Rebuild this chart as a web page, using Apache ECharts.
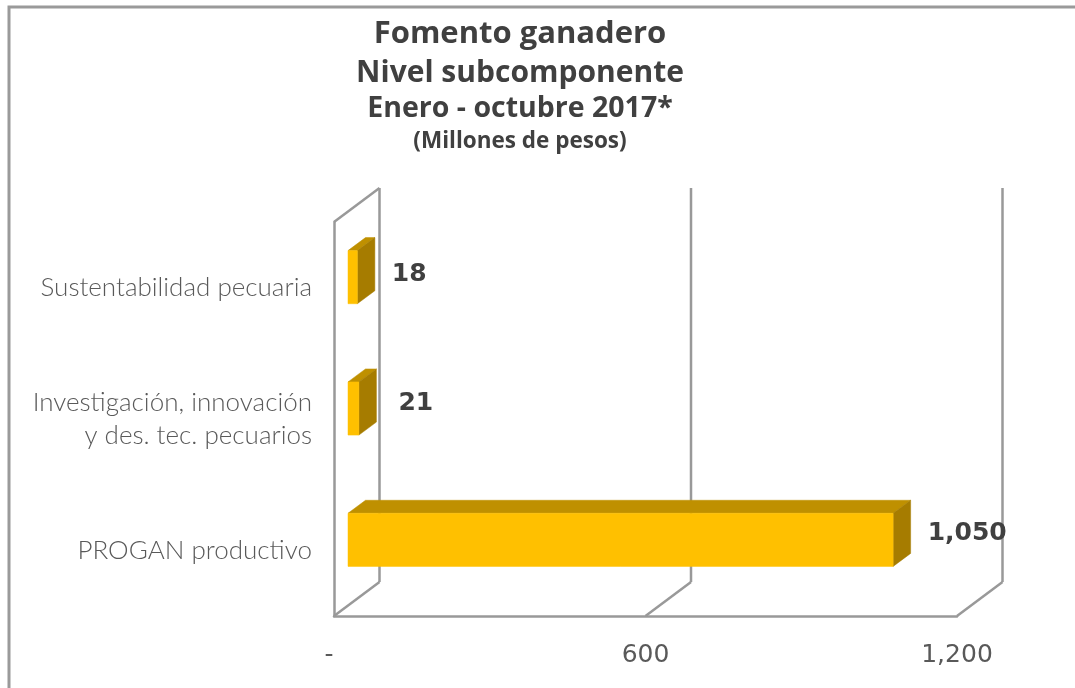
<!DOCTYPE html>
<html><head><meta charset="utf-8">
<style>html,body{margin:0;padding:0;background:#fff}#c{width:1075px;height:688px}</style>
<script src="https://cdn.jsdelivr.net/npm/echarts@6/dist/echarts.min.js"></script>
</head><body><div id="c"></div>
<script>
const categories = ['PROGAN productivo', 'Investigación, innovación\ny des. tec. pecuarios', 'Sustentabilidad pecuaria'];
const values = [1050, 21, 18];
const ticks = [0, 600, 1200];
const tickLabels = { 0: '{d|-}', 600: '600', 1200: '1,200' };
const valueLabels = ['1,050', '21', '18'];

const WALL = { dx: 45.5, dy: -34 };
const BAR = { ox: 14, oy: -10.5, dx: 17.5, dy: -13, ratio: 53 / 131 };
const GREY = '#999999', TEXT = '#595959', DARK = '#404040';
const labelNudge = [17, 22, 17];
const labelRise = [-6, -5, -3];

function seg(x1, y1, x2, y2) {
  return { type: 'line', shape: { x1, y1, x2, y2 }, style: { stroke: GREY, lineWidth: 2.5, fill: null } };
}
function renderWall(params, api) {
  const cs = params.coordSys;
  const x = api.coord([api.value(0), 0])[0];
  const top = cs.y, bottom = cs.y + cs.height;
  const kids = [
    seg(x, bottom, x + WALL.dx, bottom + WALL.dy),
    seg(x + WALL.dx, bottom + WALL.dy, x + WALL.dx, top + WALL.dy)
  ];
  if (params.dataIndex === 0) kids.push(seg(x, top, x + WALL.dx, top + WALL.dy));
  return { type: 'group', children: kids };
}
function renderBar(params, api) {
  const v = api.value(0), i = api.value(1);
  const p0 = api.coord([0, i]), p1 = api.coord([v, i]);
  const h = api.size([0, 1])[1] * BAR.ratio;
  const x0 = p0[0] + BAR.ox, x1 = p1[0] + BAR.ox;
  const yT = p0[1] + BAR.oy - h / 2, yB = yT + h;
  const d = BAR.dx, e = BAR.dy;
  const poly = (points, fill) => ({ type: 'polygon', shape: { points }, style: { fill, stroke: fill, lineWidth: 0.5 } });
  return { type: 'group', children: [
    poly([[x0, yT], [x0 + d, yT + e], [x1 + d, yT + e], [x1, yT]], '#BF9000'),
    poly([[x1, yT], [x1 + d, yT + e], [x1 + d, yB + e], [x1, yB]], '#A67C00'),
    poly([[x0, yT], [x1, yT], [x1, yB], [x0, yB]], '#FFC000'),
    { type: 'text', z2: 10, style: {
        text: valueLabels[params.dataIndex],
        x: x1 + d + labelNudge[params.dataIndex],
        y: (yT + yB) / 2 + labelRise[params.dataIndex],
        align: 'left', verticalAlign: 'middle',
        font: 'bold 25px "DejaVu Sans"', fill: DARK } }
  ] };
}
const titleLines = [
  ['Fomento ganadero', 29, 31],
  ['Nivel subcomponente', 68, 30],
  ['Enero - octubre 2017*', 104, 28.5],
  ['(Millones de pesos)', 137, 22.5]
];
const chart = echarts.init(document.getElementById('c'), null, { renderer: 'canvas' });
chart.setOption({
  animation: false,
  backgroundColor: '#fff',
  title: titleLines.map(([text, y, size]) => ({
    text, left: 515, top: y, textAlign: 'center', textVerticalAlign: 'middle',
    textStyle: { fontFamily: 'Open Sans', fontWeight: 'bold', fontSize: size, color: DARK }
  })),
  graphic: [{ type: 'rect', silent: true, z: -1, shape: { x: 9, y: 7, width: 1100, height: 700 },
    style: { fill: 'none', stroke: '#9a9a9a', lineWidth: 3 } }],
  grid: { left: 334, right: 118, top: 222, height: 394, containLabel: false },
  xAxis: {
    type: 'value', min: 0, max: 1200, interval: 600,
    axisLine: { show: true, lineStyle: { color: GREY, width: 2.5 } },
    axisTick: { show: false }, splitLine: { show: false },
    axisLabel: {
      margin: 27, fontFamily: 'DejaVu Sans', fontSize: 25, color: TEXT,
      formatter: v => tickLabels[v],
      rich: { d: { fontFamily: 'DejaVu Sans', fontSize: 25, color: TEXT, padding: [0, 10, 0, 0] } }
    }
  },
  yAxis: {
    type: 'category', data: categories,
    axisLine: { show: true, lineStyle: { color: GREY, width: 2.5 } },
    axisTick: { show: false }, splitLine: { show: false },
    axisLabel: { margin: 22, fontFamily: 'Lato', fontWeight: 300, fontSize: 26, lineHeight: 33, color: TEXT, align: 'right' }
  },
  series: [
    { type: 'custom', name: 'walls', silent: true, z: 1, renderItem: renderWall, data: ticks.map(t => [t]), encode: { x: 0 } },
    { type: 'custom', name: 'Millones de pesos', silent: true, z: 2, renderItem: renderBar, data: values.map((v, i) => [v, i]), encode: { x: 0, y: 1 } }
  ]
});
</script></body></html>
